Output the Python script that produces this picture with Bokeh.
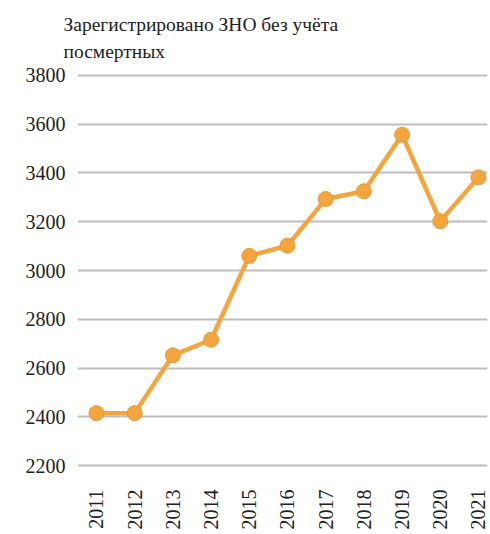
from bokeh.plotting import figure
from bokeh.embed import file_html
from bokeh.resources import INLINE
from bokeh.models import Range1d, FixedTicker

years = [2011, 2012, 2013, 2014, 2015, 2016, 2017, 2018, 2019, 2020, 2021]
counts = [2415, 2415, 2652, 2716, 3060, 3102, 3293, 3325, 3557, 3202, 3382]
y_ticks = [2200, 2400, 2600, 2800, 3000, 3200, 3400, 3600, 3800]
title_text = "Зарегистрировано ЗНО без учёта\nпосмертных"

FONT = "Liberation Serif"
ORANGE = "#F5A53D"

p = figure(width=490, height=534, output_backend="svg", toolbar_location=None,
           x_range=Range1d(2010.503, 2021.236), y_range=Range1d(2192, 3808),
           min_border_left=77, min_border_right=3, min_border_top=72, min_border_bottom=67,
           title=title_text)
p.outline_line_color = None
p.background_fill_color = "white"
p.border_fill_color = "white"

p.title.text_font = FONT
p.title.text_font_size = "19.5px"
p.title.text_font_style = "normal"
p.title.text_color = "#222222"
p.title.text_line_height = 1.3
p.title.offset = -14
p.title.standoff = 23

p.xgrid.grid_line_color = None
p.ygrid.grid_line_color = "#BDBDBD"
p.ygrid.grid_line_width = 2

p.yaxis.ticker = FixedTicker(ticks=y_ticks)
p.xaxis.ticker = FixedTicker(ticks=years)
for ax in (p.xaxis, p.yaxis):
    ax.axis_line_color = None
    ax.major_tick_line_color = None
    ax.minor_tick_line_color = None
    ax.major_label_text_font = FONT
    ax.major_label_text_font_size = "20px"
    ax.major_label_text_color = "#222222"
p.yaxis.major_label_standoff = 6
p.xaxis.major_label_standoff = 16
p.xaxis.major_label_orientation = 1.5708

p.line(years, counts, line_color=ORANGE, line_width=4.5)
p.scatter(years, counts, size=15, fill_color=ORANGE, line_color="#E89A38", line_width=1)

open("out.html", "w").write(file_html(p, INLINE))
